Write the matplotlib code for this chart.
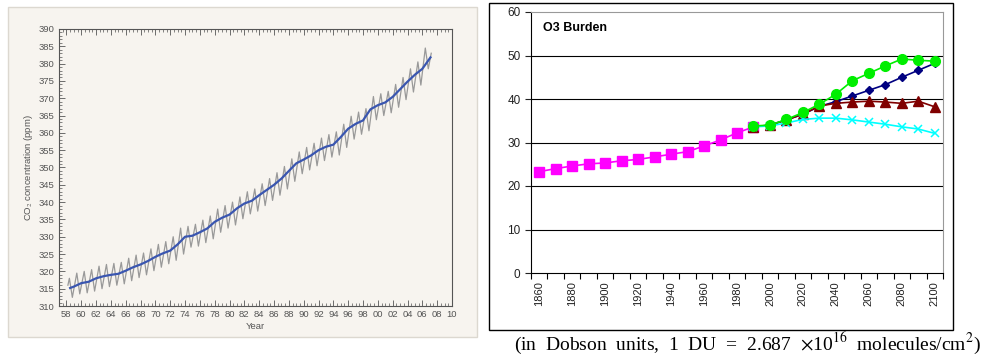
# CO2 record (left) and O3 burden projections (right)
import numpy as np
import matplotlib.pyplot as plt
from matplotlib.patches import Rectangle
from matplotlib.ticker import MultipleLocator, FixedLocator, NullFormatter

plt.rcParams['font.family'] = ['Liberation Sans', 'DejaVu Sans']
plt.rcParams['mathtext.fontset'] = 'stix'

# ---- left panel data: Mauna Loa style CO2 curve ----
trend_years = [1958.5, 1959, 1960, 1961, 1962, 1963, 1964, 1965, 1966, 1967,
               1968, 1969, 1970, 1971, 1972, 1973, 1974, 1975, 1976, 1977,
               1978, 1979, 1980, 1981, 1982, 1983, 1984, 1985, 1986, 1987,
               1988, 1989, 1990, 1991, 1992, 1993, 1994, 1995, 1996, 1997,
               1998, 1999, 2000, 2001, 2002, 2003, 2004, 2005, 2006, 2007.1]
trend_ppm = [315.2, 315.6, 316.6, 317.0, 318.0, 318.6, 319.0, 319.3, 320.2, 321.2,
             322.0, 323.0, 324.2, 325.2, 326.0, 327.8, 330.0, 330.3, 331.3, 332.4,
             334.3, 335.5, 336.4, 338.2, 339.6, 340.4, 342.0, 343.5, 345.0, 346.8,
             349.0, 351.2, 352.3, 353.5, 355.0, 356.0, 356.6, 358.8, 361.2, 362.6,
             363.6, 366.8, 368.0, 368.8, 370.4, 372.6, 374.8, 376.8, 378.5, 381.8]

cycle_years = list(range(1958, 2007))
spring_peaks = [318.0, 319.5, 320.0, 320.5, 321.5, 322.0, 322.3, 322.6, 323.8, 324.7,
                325.3, 326.5, 327.8, 328.6, 330.0, 332.5, 333.0, 333.6, 334.8, 336.0,
                338.0, 339.0, 340.0, 341.5, 343.0, 343.8, 345.3, 346.8, 348.5, 350.3,
                352.5, 354.5, 355.8, 357.0, 358.5, 359.5, 360.3, 362.5, 364.8, 366.0,
                367.0, 370.5, 371.3, 372.0, 374.0, 376.0, 378.5, 380.5, 384.5]
autumn_lows = [312.5, 313.5, 313.8, 314.3, 315.0, 315.6, 316.0, 316.4, 317.3, 318.2,
               319.0, 320.2, 321.2, 322.2, 323.2, 325.0, 327.0, 327.3, 328.3, 329.4,
               331.3, 332.5, 333.4, 335.2, 336.6, 337.4, 339.0, 340.5, 342.0, 343.8,
               346.0, 348.2, 349.3, 350.5, 352.0, 353.0, 353.6, 355.8, 358.2, 359.6,
               360.6, 363.8, 365.0, 365.8, 367.4, 369.6, 371.8, 373.8, 378.5]
first_obs = (1958.2, 316.0)
last_obs = (2007.2, 383.0)

# ---- right panel data: O3 burden (DU) ----
decades = list(range(1860, 2101, 10))
hist_years = decades[:14]           # 1860-1990
hist = [23.3, 24.0, 24.6, 25.1, 25.3, 25.8, 26.1, 26.7, 27.3, 27.9, 29.2, 30.6, 32.2, 33.6]
proj_years = decades[13:]           # 1990-2100
navy_run = [33.6, 34.0, 35.2, 36.5, 38.3, 39.4, 40.7, 42.0, 43.3, 45.0, 46.6, 48.2]
red_run = [33.6, 34.0, 35.2, 36.5, 38.4, 39.0, 39.3, 39.5, 39.3, 39.0, 39.5, 38.2]
cyan_run = [33.6, 33.8, 34.5, 35.3, 35.6, 35.6, 35.2, 34.7, 34.2, 33.6, 33.1, 32.1]
green_run = [33.8, 34.0, 35.3, 36.9, 38.8, 41.1, 44.2, 45.9, 47.6, 49.2, 48.9, 48.7]

fig = plt.figure(figsize=(9.87, 3.61), dpi=100)

# background frames (drawn under the axes)
fig.patches.append(Rectangle((8 / 987, 1 - 337 / 361), 469 / 987, 330 / 361,
                             transform=fig.transFigure, facecolor='#f7f4ef',
                             edgecolor='#dcd8d0', lw=1, zorder=-5))
fig.patches.append(Rectangle((489 / 987, 1 - 330 / 361), 464 / 987, 327 / 361,
                             transform=fig.transFigure, facecolor='white',
                             edgecolor='black', lw=1, zorder=-5))

# ---------------- left: CO2 ----------------
ax1 = fig.add_axes([59 / 987, 1 - 306 / 361, 393 / 987, 277 / 361])
ax1.set_facecolor('#f7f4ef')

gx, gy = [first_obs[0]], [first_obs[1]]
for yr, hi, lo in zip(cycle_years, spring_peaks, autumn_lows):
    gx += [yr + 0.4, yr + 0.8]
    gy += [hi, lo]
gx.append(last_obs[0])
gy.append(last_obs[1])
ax1.plot(gx, gy, color='#999999', lw=0.9)
ax1.plot(trend_years, trend_ppm, color='#3a56b0', lw=1.6)

ax1.set_xlim(1957, 2010)
ax1.set_ylim(310, 390)
ax1.xaxis.set_minor_locator(MultipleLocator(0.5))
ax1.yaxis.set_major_locator(MultipleLocator(5))
ax1.yaxis.set_minor_locator(MultipleLocator(1))
ax1.set_xticks(range(1958, 2011, 2))
ax1.set_xticklabels(['%02d' % (y % 100) for y in range(1958, 2011, 2)])
ax1.tick_params(which='both', direction='in', top=True, colors='#555555',
                labelsize=6.8, pad=3)
ax1.tick_params(which='major', length=4, width=0.6)
ax1.tick_params(which='minor', length=2, width=0.5)
for s in ax1.spines.values():
    s.set_color('#555555')
    s.set_linewidth(0.8)
ax1.set_xlabel('Year', fontsize=6.8, color='#555555', labelpad=2)
ax1.set_ylabel('CO$_2$ concentration (ppm)', fontsize=6.8, color='#555555', labelpad=3)

# ---------------- right: O3 burden ----------------
ax2 = fig.add_axes([531 / 987, 1 - 273 / 361, 412 / 987, 261 / 361])
pos = {y: i for i, y in enumerate(decades)}
hx = [pos[y] for y in hist_years]
px = [pos[y] for y in proj_years]

for v in range(10, 60, 10):
    ax2.axhline(v, color='black', lw=0.8, zorder=1)

ax2.plot(hx, hist, color='#ff00ff', marker='s', ms=6.5, lw=1.2, zorder=3)
ax2.plot(px, navy_run, color='#000080', marker='D', ms=4.5, lw=1.2, zorder=3)
ax2.plot(px, red_run, color='#800000', marker='^', ms=6.5, lw=1.2, zorder=3)
ax2.plot(px, cyan_run, color='#00ffff', marker='x', ms=6, mew=1.1, lw=1.2, zorder=3)
ax2.plot(px, green_run, color='#00ee00', marker='o', ms=7, lw=1.2, zorder=4)

ax2.set_xlim(-0.5, len(decades) - 0.5)
ax2.set_ylim(0, 60)
ax2.set_yticks(range(0, 61, 10))
ax2.set_xticks([pos[y] for y in decades[::2]])
ax2.set_xticklabels([str(y) for y in decades[::2]], rotation=90)
ax2.xaxis.set_minor_locator(FixedLocator(np.arange(-0.5, len(decades), 1)))
ax2.xaxis.set_minor_formatter(NullFormatter())
ax2.tick_params(axis='x', which='major', length=0, labelsize=8, pad=6, colors='#222222')
ax2.tick_params(axis='x', which='minor', length=4, width=0.8, direction='out')
ax2.tick_params(axis='y', length=4, width=0.8, labelsize=8.5, colors='#222222')
ax2.spines['top'].set_color('#999999')
ax2.spines['right'].set_color('#999999')
ax2.spines['left'].set_color('black')
ax2.spines['bottom'].set_color('black')
ax2.text(0.03, 0.94, 'O3 Burden', transform=ax2.transAxes, fontsize=9,
         fontweight='bold', ha='left', va='center')

fig.text(747 / 987, 1 - 343 / 361,
         '(in  Dobson  units,  1  DU  =  2.687  $\\times$10$^{16}$  molecules/cm$^{2}$)',
         family='Liberation Serif', fontsize=14, ha='center', va='center')

fig.savefig('out.png', dpi=100)
